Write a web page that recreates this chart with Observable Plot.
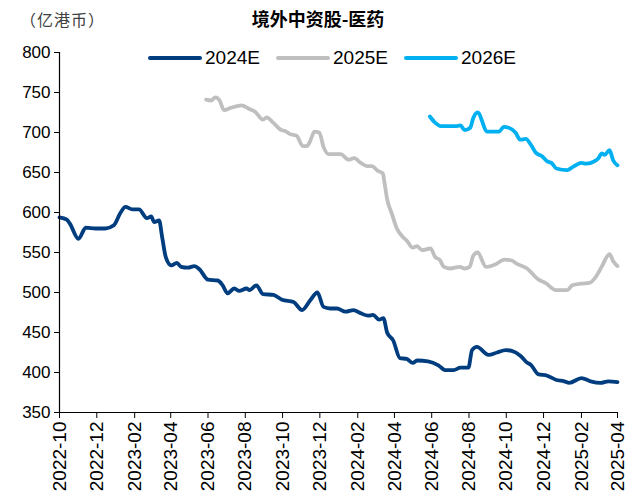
<!DOCTYPE html>
<html>
<head>
<meta charset="utf-8">
<script src="https://cdn.jsdelivr.net/npm/d3@7"></script>
<script src="https://cdn.jsdelivr.net/npm/@observablehq/plot@0.6"></script>
<style>
  body { margin: 0; background: #fff; }
  #wrap { position: relative; width: 627px; height: 495px; overflow: hidden; font-family: Arial, "Liberation Sans", sans-serif; }
  #unit { position: absolute; left: 20px; top: 7px; font-size: 16px; letter-spacing: 1px; color: #404040; font-family: "Noto Sans CJK SC", sans-serif; }
  #title { position: absolute; left: 0; width: 636px; top: 5px; text-align: center; font-size: 18px; font-weight: 700; font-family: "Noto Sans CJK SC", sans-serif; color: #000; }
  #chart { position: absolute; left: 0; top: 38px; }
  .lg { position: absolute; top: 47px; height: 22px; font-size: 19px; color: #000; line-height: 22px; }
  .sw { position: absolute; top: 9px; width: 54px; height: 4px; border-radius: 2px; }
  .lt { position: absolute; left: 57px; top: 0; }
</style>
</head>
<body>
<div id="wrap">
  <div id="unit">（亿港币）</div>
  <div id="title">境外中资股-医药</div>
  <div id="chart"></div>
  <div id="legend"></div>
</div>
<script>
const seriesNames = ["2024E", "2025E", "2026E"];
const seriesColors = ["#003D7F", "#BFBFBF", "#00B0F0"];

const dates2024 = ["2022-10-01","2022-10-13","2022-10-18","2022-11-01","2022-11-13","2022-11-29","2022-12-15","2022-12-29",
"2023-01-09","2023-01-17","2023-01-28","2023-02-08","2023-02-21","2023-02-28","2023-03-05","2023-03-13","2023-03-18","2023-03-24",
"2023-04-02","2023-04-11","2023-04-18","2023-04-29","2023-05-10","2023-05-18","2023-06-01","2023-06-17","2023-06-25","2023-07-03",
"2023-07-14","2023-07-22","2023-08-03","2023-08-08","2023-08-19","2023-08-30","2023-09-16","2023-09-30","2023-10-19","2023-11-02",
"2023-11-15","2023-11-27","2023-12-07","2023-12-18","2023-12-29","2024-01-12","2024-01-25","2024-02-06","2024-02-18","2024-02-26",
"2024-03-07","2024-03-14","2024-03-20","2024-03-30","2024-04-10","2024-04-21","2024-05-01","2024-05-08","2024-05-26","2024-06-12",
"2024-06-23","2024-07-07","2024-07-18","2024-07-31","2024-08-06","2024-08-14","2024-09-02","2024-09-16","2024-09-30","2024-10-10",
"2024-10-24","2024-11-03","2024-11-11","2024-11-22","2024-12-07","2024-12-21","2025-01-04","2025-01-12","2025-02-01","2025-02-16",
"2025-03-04","2025-03-17","2025-04-01"];
const values2024 = [594,591,586,567,581,580,580,584,
600,607,604,604,593,595,588,590,569,544,
534,537,532,531,533,529,516,515,509,499,
505,502,505,503,509,498,497,491,488,478,
490,500,482,480,480,476,478,474,471,472,
466,468,450,440,418,417,412,415,414,409,
403,403,406,406,428,432,422,425,428,427,
421,413,409,398,396,391,389,387,393,389,
387,389,388];

const dates2025 = ["2023-05-29","2023-06-06","2023-06-13","2023-06-20","2023-06-27","2023-07-09","2023-07-26","2023-08-06","2023-08-17",
"2023-08-30","2023-09-05","2023-09-16","2023-09-29","2023-10-05","2023-10-13","2023-10-24","2023-11-03","2023-11-10","2023-11-15",
"2023-11-22","2023-11-30","2023-12-07","2023-12-15","2024-01-04","2024-01-17","2024-01-26","2024-02-06","2024-02-16","2024-02-24",
"2024-03-05","2024-03-13","2024-03-16","2024-03-20","2024-03-28","2024-04-05","2024-04-13","2024-04-21","2024-05-01","2024-05-08",
"2024-05-16","2024-05-30","2024-06-07","2024-06-14","2024-06-21","2024-07-01","2024-07-17","2024-07-25","2024-08-02","2024-08-08",
"2024-08-15","2024-08-29","2024-09-13","2024-09-28","2024-10-10","2024-10-18","2024-11-04","2024-11-23","2024-12-04","2024-12-21",
"2025-01-09","2025-01-17","2025-02-01","2025-02-14","2025-02-25","2025-03-06","2025-03-19","2025-03-25","2025-04-01"];
const values2025 = [741,740,744,740,728,731,734,730,726,
716,719,712,703,702,698,696,683,683,689,
701,700,682,673,673,666,668,662,658,658,
652,649,636,617,598,580,571,565,556,558,
553,555,544,541,532,530,532,530,532,546,
550,532,535,541,540,536,530,516,512,503,
503,509,511,512,520,532,548,539,533];

const dates2026 = ["2024-05-29","2024-06-07","2024-06-16","2024-07-01","2024-07-12","2024-07-18","2024-07-25","2024-08-03","2024-08-08",
"2024-08-15","2024-08-31","2024-09-19","2024-09-27","2024-10-05","2024-10-16","2024-10-24","2024-11-02","2024-11-10","2024-11-18",
"2024-11-29","2024-12-07","2024-12-14","2024-12-22","2025-01-09","2025-01-20","2025-02-01","2025-02-09","2025-02-22","2025-03-01",
"2025-03-06","2025-03-11","2025-03-19","2025-03-25","2025-04-01"];
const values2026 = [720,712,708,708,708,709,703,706,718,
725,701,701,707,706,700,691,692,685,675,
670,664,662,655,653,658,662,661,664,668,
674,672,678,665,659];

const xTicks = ["2022-10","2022-12","2023-02","2023-04","2023-06","2023-08","2023-10","2023-12","2024-02","2024-04","2024-06","2024-08","2024-10","2024-12","2025-02","2025-04"];
const yTicks = [350,400,450,500,550,600,650,700,750,800];

const allDates = [dates2024, dates2025, dates2026];
const allValues = [values2024, values2025, values2026];
const rows = [];
seriesNames.forEach((s, i) => {
  allDates[i].forEach((d, j) => rows.push({series: s, date: new Date(d + "T00:00:00Z"), value: allValues[i][j]}));
});
const tickDates = xTicks.map(t => new Date(t + "-01T00:00:00Z"));

const chart = Plot.plot({
  width: 627,
  height: 457,
  marginTop: 14,
  marginBottom: 83,
  marginLeft: 59,
  marginRight: 10,
  style: {fontFamily: "Arial, 'Liberation Sans', sans-serif", fontSize: "17px", color: "#000", background: "transparent"},
  x: {type: "utc", domain: [tickDates[0], tickDates[tickDates.length - 1]]},
  y: {domain: [350, 800]},
  color: {domain: seriesNames, range: seriesColors},
  marks: [
    Plot.lineY(rows, {x: "date", y: "value", z: "series", stroke: "series", strokeWidth: 3.8, curve: "monotone-x", strokeLinejoin: "round", strokeLinecap: "round"}),
    Plot.ruleX([tickDates[0]], {stroke: "#000", strokeWidth: 1.2}),
    Plot.ruleY([350], {stroke: "#000", strokeWidth: 1.2}),
    Plot.axisY({ticks: yTicks, tickSize: 5, tickPadding: 4, label: null, fontSize: 17, stroke: "#000"}),
    Plot.axisX({ticks: tickDates, tickFormat: (d, i) => xTicks[i], tickRotate: -90, tickSize: 6, tickPadding: 3, label: null, fontSize: 19, stroke: "#000"})
  ]
});
document.getElementById("chart").appendChild(chart);

const legendLeft = [148, 276, 404];
const legend = document.getElementById("legend");
seriesNames.forEach((s, i) => {
  const item = document.createElement("div");
  item.className = "lg";
  item.style.left = legendLeft[i] + "px";
  item.innerHTML = `<div class="sw" style="background:${seriesColors[i]}"></div><div class="lt">${s}</div>`;
  legend.appendChild(item);
});
</script>
</body>
</html>
